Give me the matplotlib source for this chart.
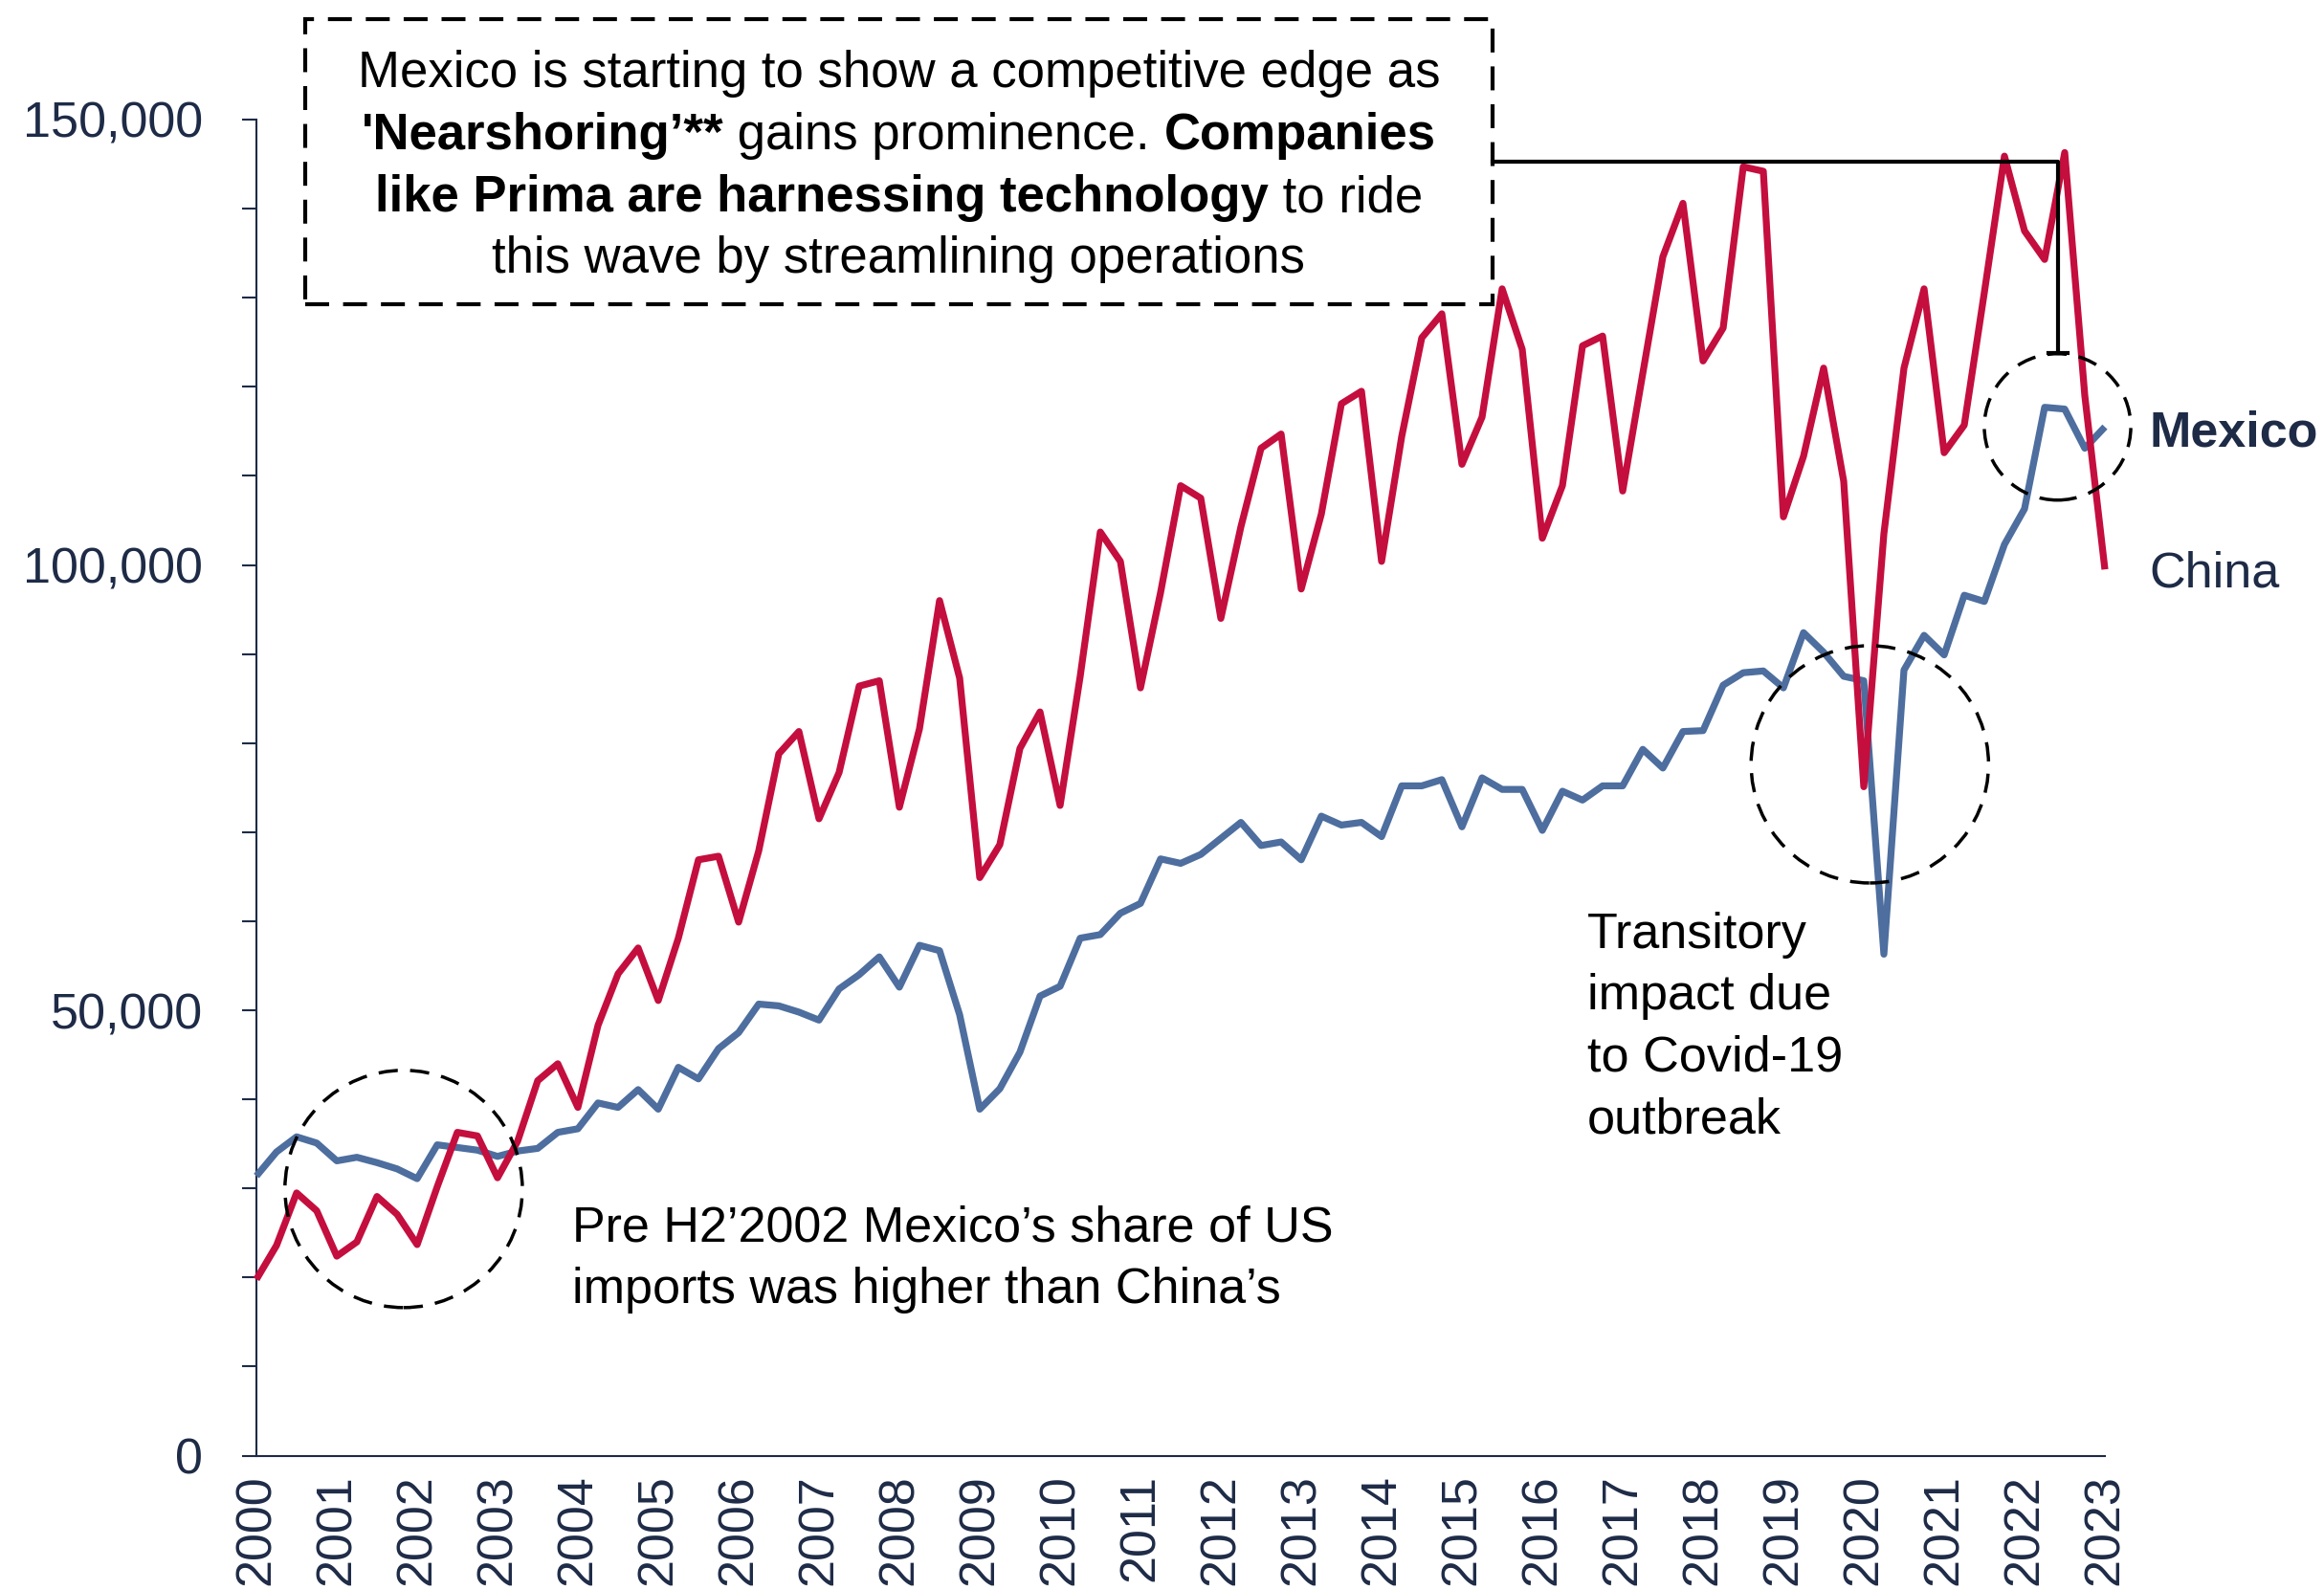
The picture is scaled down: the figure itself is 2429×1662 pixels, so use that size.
import numpy as np
import matplotlib
matplotlib.use("Agg")
import matplotlib.pyplot as plt
from matplotlib.patches import Rectangle, Ellipse

plt.rcParams['font.family'] = ['Liberation Sans', 'DejaVu Sans']

# quarterly US imports, 2000Q1 .. 2023Q1 (USD mn)
china = [19800, 23600, 29500, 27500, 22400, 24000, 29100, 27100,
         23700, 30200, 36300, 35900, 31200, 35300, 42100, 44000,
         39100, 48300, 54100, 57000, 51100, 58100, 66900, 67300,
         59900, 67900, 78800, 81300, 71500, 76700, 86400, 87000,
         72800, 81600, 96000, 87300, 64900, 68600, 79400, 83500,
         73000, 87500, 103700, 100400, 86200, 96900, 108900, 107500,
         94000, 104300, 113100, 114700, 97300, 105700, 118100, 119500,
         100400, 114400, 125500, 128200, 111300, 116600, 131000, 124200,
         103000, 108900, 124600, 125700, 108300, 121500, 134600, 140600,
         122900, 126600, 144700, 144200, 105400, 112200, 122100, 109400,
         75100, 103500, 122100, 131000, 112600, 115700, 130600, 145900,
         137500, 134300, 146300, 119000, 99500]
mexico = [31400, 34100, 35800, 35100, 33100, 33500, 32900, 32200,
          31100, 34900, 34600, 34300, 33600, 34200, 34500, 36300,
          36700, 39600, 39100, 41100, 38900, 43600, 42300, 45700,
          47500, 50700, 50500, 49800, 48900, 52400, 54000, 56000,
          52600, 57300, 56700, 49500, 38900, 41200, 45300, 51600,
          52700, 58100, 58500, 60900, 62000, 67000, 66500, 67500,
          69300, 71100, 68500, 68900, 66900, 71800, 70800, 71100,
          69500, 75200, 75200, 75900, 70600, 76100, 74800, 74800,
          70200, 74600, 73600, 75200, 75200, 79300, 77200, 81300,
          81400, 86500, 87900, 88100, 86200, 92400, 90200, 87500,
          87000, 56300, 88200, 92100, 89900, 96600, 95900, 102300,
          106300, 117700, 117500, 113100, 115500]
years = list(range(2000, 2024))
y_major = [0, 50000, 100000, 150000]
y_labels = ["0", "50,000", "100,000", "150,000"]

red = "#C40E3E"
blue = "#4D6E9E"
navy = "#1E2B47"

W, H = 2429, 1662
fig = plt.figure(figsize=(W / 100, H / 100), dpi=100)
ax = fig.add_axes([268 / W, 1 - 1521.6 / H, (2200 - 268) / W, (1521.6 - 125) / H])

x = 2000 + np.arange(len(china)) / 4
ax.plot(x, mexico, color=blue, lw=5.2, solid_joinstyle="round", solid_capstyle="butt",
        clip_on=False, zorder=3)
ax.plot(x, china, color=red, lw=5.2, solid_joinstyle="round", solid_capstyle="butt",
        clip_on=False, zorder=4)

ax.set_xlim(2000, 2023)
ax.set_ylim(0, 150000)
for s in ["top", "right"]:
    ax.spines[s].set_visible(False)
for s in ["left", "bottom"]:
    ax.spines[s].set_color(navy)
    ax.spines[s].set_linewidth(1.5)

ax.set_yticks(y_major)
ax.set_yticklabels(y_labels)
ax.set_yticks(np.arange(0, 150001, 10000), minor=True)
ax.tick_params(axis="y", which="both", direction="out", length=10.8, width=1.5,
               color=navy, labelcolor=navy, labelsize=37.5, pad=29.5)
ax.set_xticks(years)
ax.set_xticklabels([str(y) for y in years], rotation=90)
ax.tick_params(axis="x", length=0, labelcolor=navy, labelsize=37.5, pad=14)


# pixel (top-left origin) -> data coords
def to_data(px, py):
    return 2000 + (px - 268) / 83.95, (1521.6 - py) / 9.31 * 1000


def circle(cx, cy, r):
    dx, dy = to_data(cx, cy)
    e = Ellipse((dx, dy), 2 * r / 83.95, 2 * r / 9.31 * 1000, fill=False, ec="black",
                lw=2.5, ls=(0, (5.8, 3.7)), clip_on=False, zorder=5)
    ax.add_patch(e)


circle(421.8, 1242.8, 124)
circle(1953.3, 799, 124)
circle(2149.4, 446.3, 76.5)

# bracket from box to the latest peak
x0, yb = to_data(1559.7, 169)
x1, _ = to_data(2150, 169)
_, ybot = to_data(2150, 369.3)
ax.plot([x0, x1, x1], [yb, yb, ybot], color="black", lw=3, clip_on=False, zorder=6)
ax.plot([x1 - 0.12, x1 + 0.12], [ybot, ybot], color="black", lw=3, clip_on=False, zorder=6)

# series labels
lx, ly = to_data(2245, 467)
ax.text(lx, ly, "Mexico", fontsize=37.5, fontweight="bold", color=navy, va="baseline", clip_on=False)
lx, ly = to_data(2245, 613.6)
ax.text(lx, ly, "China", fontsize=37.5, color=navy, va="baseline", clip_on=False)

# notes
for i, s in enumerate(["Pre H2\u20192002 Mexico\u2019s share of US", "imports was higher than China\u2019s"]):
    tx, ty = to_data(597.6, 1297.4 + i * 64.3)
    ax.text(tx, ty, s, fontsize=37.5, color="black", va="baseline")
for i, s in enumerate(["Transitory", "impact due", "to Covid-19", "outbreak"]):
    tx, ty = to_data(1658, 991 + i * 64.5)
    ax.text(tx, ty, s, fontsize=37.5, color="black", va="baseline")

# dashed call-out box
fig.patches.append(Rectangle((318.9 / W, 1 - 317.9 / H), (1559.7 - 318.9) / W, (317.9 - 20.1) / H,
                             transform=fig.transFigure, fill=False, ec="black", lw=3,
                             ls=(0, (6, 3.5)), zorder=5))

box_lines = [
    [("Mexico is starting to show a competitive edge as", "normal")],
    [("'Nearshoring\u2019**", "bold"), (" gains prominence. ", "normal"), ("Companies", "bold")],
    [("like Prima are harnessing technology", "bold"), (" to ride", "normal")],
    [("this wave by streamlining operations", "normal")],
]
baselines = [91.5, 156, 221, 285]
box_fs = 38
renderer = fig.canvas.get_renderer()


def text_width(s, weight):
    a = fig.text(0, 0, "|" + s + "|", fontsize=box_fs, fontweight=weight)
    b = fig.text(0, 0, "||", fontsize=box_fs, fontweight=weight)
    w = a.get_window_extent(renderer).width - b.get_window_extent(renderer).width
    a.remove()
    b.remove()
    return w


cx = (318.9 + 1559.7) / 2
for pieces, base in zip(box_lines, baselines):
    widths = [text_width(s, w) for s, w in pieces]
    xpos = cx - sum(widths) / 2
    for (s, w), wd in zip(pieces, widths):
        fig.text(xpos / W, 1 - base / H, s, fontsize=box_fs, fontweight=w,
                 color="black", va="baseline", ha="left")
        xpos += wd

fig.savefig("out.png", dpi=100)
